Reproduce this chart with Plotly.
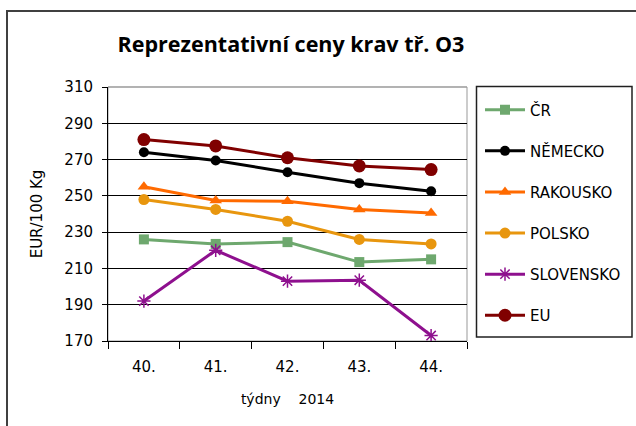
import plotly.graph_objects as go

weeks = ["40.", "41.", "42.", "43.", "44."]
series_names = ["ČR", "NĚMECKO", "RAKOUSKO", "POLSKO", "SLOVENSKO", "EU"]
cr = [226, 223.5, 224.5, 213.5, 215]
nemecko = [274, 269.5, 263, 257, 252.5]
rakousko = [255, 247.5, 247, 242.5, 240.5]
polsko = [248, 242.5, 236, 226, 223.5]
slovensko = [192, 220, 203, 203.5, 173]
eu = [281, 277.5, 271, 266.5, 264.5]
y_ticks = [170, 190, 210, 230, 250, 270, 290, 310]

values = [cr, nemecko, rakousko, polsko, slovensko, eu]
colors = ["#6EA86E", "#000000", "#FF6A00", "#E8960E", "#8E108E", "#800000"]
symbols = ["square", "circle", "triangle-up", "circle", "asterisk-open", "circle"]
msizes = [10, 10, 11, 11, 11, 13]

W, H = 636, 426
PL, PR, PT, PB = 108, 467, 87, 341

def px_x(p):
    return (p - PL) / (PR - PL)

def px_y(p):
    return (PB - p) / (PB - PT)

fig = go.Figure()
for i, (name, vals) in enumerate(zip(series_names, values)):
    fig.add_trace(go.Scatter(
        x=weeks, y=vals, name=name, mode="lines+markers",
        legendgroup=f"g{i}",
        line=dict(color=colors[i], width=3),
        marker=dict(symbol=symbols[i], size=msizes[i], color=colors[i],
                    line=dict(color=colors[i], width=1.5 if symbols[i] == "asterisk-open" else 0)),
    ))

FONT = "DejaVu Sans"
fig.update_layout(
    width=W, height=H,
    margin=dict(l=PL, r=W - PR, t=PT, b=H - PB, autoexpand=False),
    paper_bgcolor="white", plot_bgcolor="white",
    font=dict(family=FONT, size=15, color="#000000"),
    title=dict(text="<b>Reprezentativní ceny krav tř. O3</b>",
               font=dict(family="Open Sans", size=21.5, color="#000000"),
               x=291 / W, xanchor="center", xref="container",
               y=1 - 44 / H, yanchor="middle", yref="container"),
    showlegend=True,
    legend=dict(x=px_x(480), y=px_y(93.5), xanchor="left", yanchor="top",
                font=dict(family=FONT, size=15, color="#000000"),
                tracegroupgap=18.6, bgcolor="rgba(0,0,0,0)", borderwidth=0,
                itemwidth=40),
    xaxis=dict(type="category", range=[-0.5, 4.5], showgrid=False, showline=True,
               linecolor="#000000",
               linewidth=1, ticks="outside", ticklen=7, tickcolor="#000000",
               tickson="boundaries", ticklabelstandoff=12,
               title=dict(text="týdny\u00a0\u00a0\u00a0\u00a02014", font=dict(size=14), standoff=19)),
    yaxis=dict(range=[170, 310], tickvals=y_ticks, showgrid=True, gridcolor="#000000",
               gridwidth=1, showline=True, linecolor="#000000", linewidth=1,
               ticks="outside", ticklen=5, tickcolor="#000000", zeroline=False,
               ticklabelstandoff=6,
               title=dict(text="EUR/100 Kg", font=dict(size=15), standoff=18)),
    shapes=[
        dict(type="rect", xref="paper", yref="paper", x0=0, x1=1, y0=0, y1=1,
             line=dict(color="#999999", width=1), layer="below"),
        dict(type="line", xref="paper", yref="paper", x0=0, x1=1, y0=1, y1=1,
             line=dict(color="#999999", width=1), layer="above"),
        dict(type="rect", xref="paper", yref="paper",
             x0=px_x(476.5), x1=px_x(632), y0=px_y(337), y1=px_y(86.5),
             line=dict(color="#202020", width=1.5)),
        dict(type="rect", xref="paper", yref="paper",
             x0=px_x(7), x1=px_x(660), y0=px_y(450), y1=px_y(11),
             line=dict(color="#404040", width=2)),
    ],
)
fig.write_html("out.html", config={"displayModeBar": False},
               post_script="document.body.style.margin='0px';")
